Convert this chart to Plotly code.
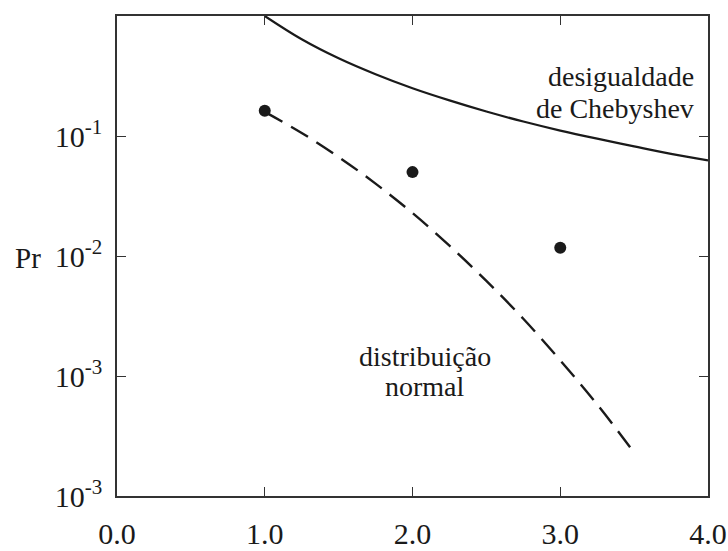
import plotly.graph_objects as go

# Chebyshev bound, read along k
k_cheb = [1.0, 1.25, 1.5, 1.75, 2.0, 2.25, 2.5, 2.75, 3.0, 3.25, 3.5, 3.75, 4.0]
pr_cheb = [1.0, 0.64, 0.444, 0.327, 0.25, 0.198, 0.16, 0.132, 0.111, 0.095, 0.082, 0.071, 0.0625]

# Normal distribution tail, read along k
k_norm = [1.0, 1.25, 1.5, 1.75, 2.0, 2.25, 2.5, 2.75, 3.0, 3.25, 3.5]
pr_norm = [0.159, 0.106, 0.0668, 0.0401, 0.0228, 0.0122, 0.0062, 0.0030, 0.00135, 0.00058, 0.00023]

# Observed points
k_obs = [1.0, 2.0, 3.0]
pr_obs = [0.162, 0.050, 0.0117]

# Axis ticks
x_ticks = [0, 1, 2, 3, 4]
x_labels = ["0.0", "1.0", "2.0", "3.0", "4.0"]
y_ticks = [1e-1, 1e-2, 1e-3, 1e-4]
y_labels = ["10<sup>-1</sup>", "10<sup>-2</sup>", "10<sup>-3</sup>", "10<sup>-3</sup>"]

SERIF = "Liberation Serif, Times New Roman, serif"
INK = "#1a1a1a"

fig = go.Figure()
fig.add_trace(go.Scatter(x=k_cheb, y=pr_cheb, mode="lines",
                         line=dict(color=INK, width=2.2, shape="spline"),
                         showlegend=False))
fig.add_trace(go.Scatter(x=k_norm, y=pr_norm, mode="lines",
                         line=dict(color=INK, width=2.4, dash="20px,10px", shape="spline"),
                         showlegend=False))
fig.add_trace(go.Scatter(x=k_obs, y=pr_obs, mode="markers",
                         marker=dict(color=INK, size=12),
                         showlegend=False))

def label(text, x, y, anchor):
    fig.add_annotation(text=text, x=x, y=y, xref="x", yref="y", showarrow=False,
                       xanchor=anchor, yanchor="middle",
                       font=dict(family=SERIF, size=28, color=INK))

label("desigualdade", 3.92, -0.508, "right")
label("de Chebyshev", 3.92, -0.767, "right")
label("distribuição", 2.085, -2.84, "center")
label("normal", 2.085, -3.09, "center")

# axis name, placed left of the tick labels (paper units span the plot area)
fig.add_annotation(text="Pr", x=(28 - 117) / 591, y=(496 - 258) / 480,
                   xref="paper", yref="paper",
                   showarrow=False, xanchor="center", yanchor="middle",
                   font=dict(family=SERIF, size=29, color=INK))

axis_common = dict(showgrid=False, zeroline=False, showline=True, linecolor="#333",
                   linewidth=1.5, mirror="allticks", ticks="inside", ticklen=9,
                   tickwidth=1.2, tickcolor="#333", automargin=False,
                   tickfont=dict(family=SERIF, size=30, color=INK))

fig.update_xaxes(range=[0, 4], tickvals=x_ticks, ticktext=x_labels,
                 ticklabelstandoff=10, **axis_common)
fig.update_yaxes(type="log", range=[-4, 0], tickvals=y_ticks, ticktext=y_labels,
                 ticklabelstandoff=7, **axis_common)

fig.update_layout(template="none", width=728, height=551,
                  paper_bgcolor="white", plot_bgcolor="white",
                  margin=dict(l=117, r=20, t=16, b=55), showlegend=False)

fig.write_html("out.html")
